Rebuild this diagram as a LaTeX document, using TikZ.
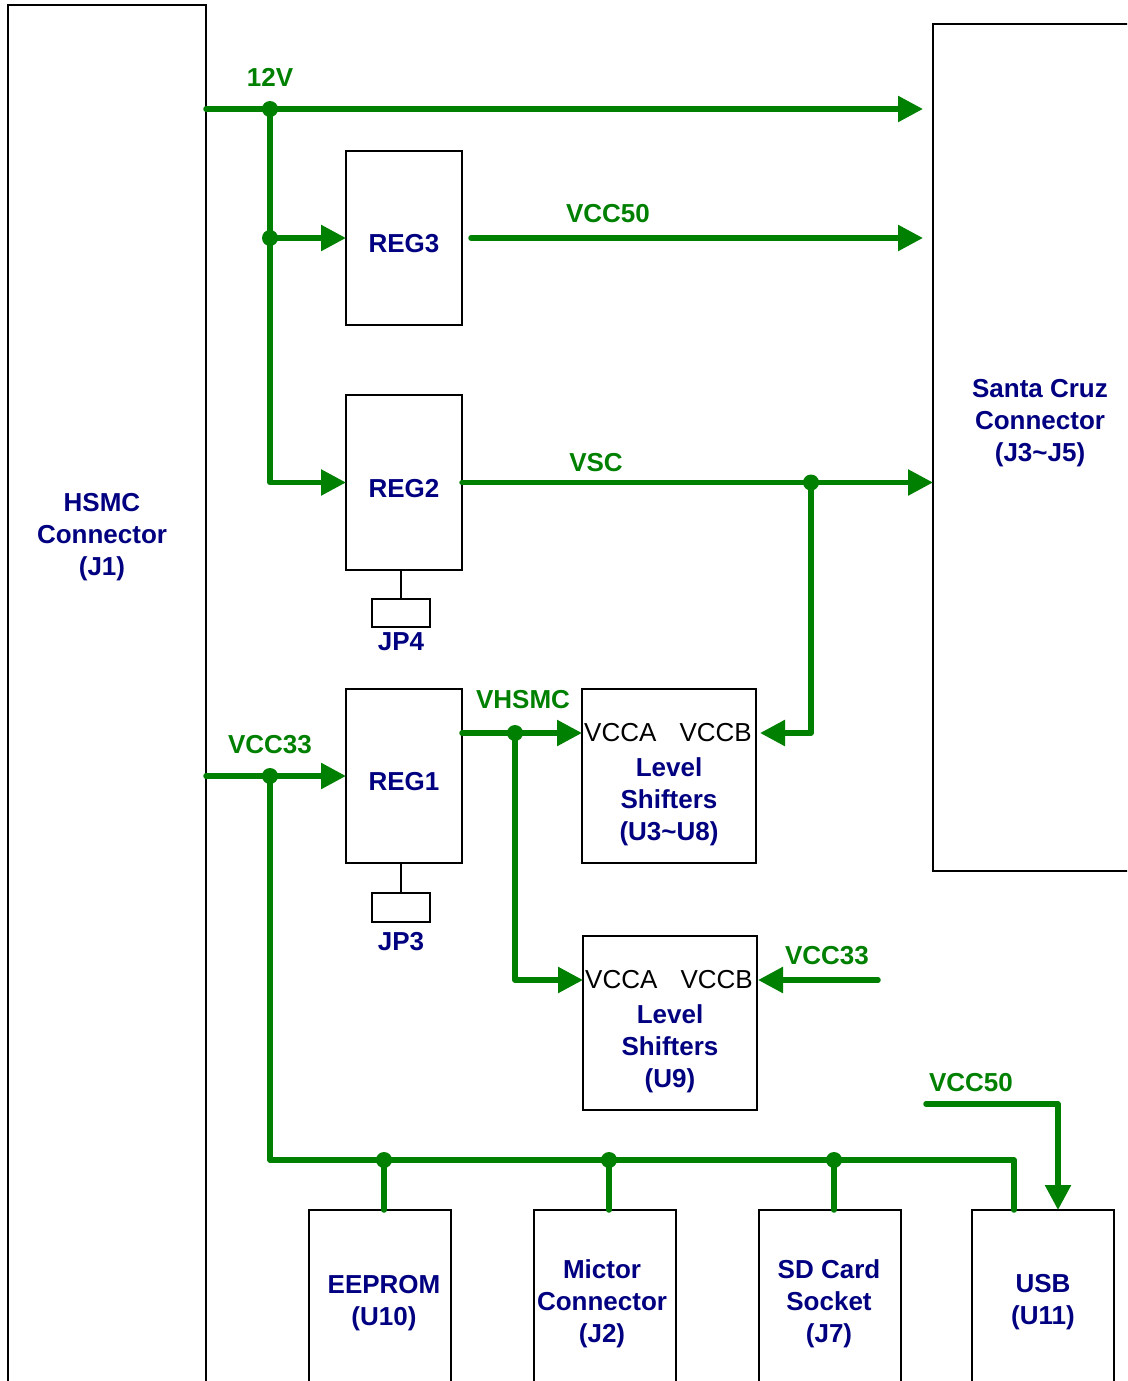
\documentclass[tikz,border=0pt]{standalone}
\usepackage{fontspec}
\setmainfont{Liberation Sans}
\usetikzlibrary{arrows.meta}
\definecolor{pgreen}{HTML}{008000}
\definecolor{pnavy}{HTML}{000080}
\begin{document}
\begin{tikzpicture}[x=1pt,y=-1pt,
  blk/.style 2 args={draw=black,line width=1.8pt,minimum width=#1,minimum height=#2,inner sep=0pt,outer sep=0pt},
  lbl/.style={text=pnavy,font=\bfseries\fontsize{26}{32}\selectfont,align=center,inner sep=0pt},
  glbl/.style={text=pgreen,font=\bfseries\fontsize{26}{32}\selectfont,inner sep=0pt},
  pin/.style={text=black,font=\fontsize{26}{32}\selectfont,inner sep=0pt},
  wire/.style={draw=pgreen,line width=5.5pt,line cap=round,line join=round},
  arr/.style={-{Triangle[length=25pt,width=25pt]}},
  dot/.style={circle,fill=pgreen,inner sep=0pt,minimum size=16pt},
  jp/.style={draw=black,line width=1.8pt}]
\useasboundingbox (0,0) rectangle (1127,1381);
\clip (0,0) rectangle (1127,1381);
\fill[white] (0,0) rectangle (1127,1381);

% boxes
\node[blk={198pt}{1395pt}] (HSMC) at (107,702.5) {};
\node[lbl] (HSMCt) at (102,537) {HSMC\\Connector\\(J1)};
\node[blk={217pt}{847pt}] (SC) at (1041.5,447.5) {};
\node[lbl] (SCt) at (1040,423) {Santa Cruz\\Connector\\(J3\textasciitilde J5)};
\node[blk={116pt}{174pt}] (REG3) at (404,238) {};
\node[lbl] (REG3t) at (404,244) {REG3};
\node[blk={116pt}{175pt}] (REG2) at (404,482.5) {};
\node[lbl] (REG2t) at (404,489) {REG2};
\node[blk={116pt}{174pt}] (REG1) at (404,776) {};
\node[lbl] (REG1t) at (404,782) {REG1};
\node[blk={58pt}{28pt}] (JP4) at (401,613) {};
\node[lbl] (JP4t) at (401,642) {JP4};
\node[blk={58pt}{29pt}] (JP3) at (401,907.5) {};
\node[lbl] (JP3t) at (401,942) {JP3};
\draw[jp] (JP4.north |- REG2.south) -- (JP4.north);
\draw[jp] (JP3.north |- REG1.south) -- (JP3.north);

\node[blk={174pt}{174pt}] (LS1) at (669,776) {};
\node[pin,anchor=west] (LS1a) at (584,733) {VCCA};
\node[pin,anchor=east] (LS1b) at (752,733) {VCCB};
\node[lbl] (LS1t) at (669,802) {Level\\Shifters\\(U3\textasciitilde U8)};
\node[blk={174pt}{174pt}] (LS2) at (670,1023) {};
\node[pin,anchor=west] (LS2a) at (585,980) {VCCA};
\node[pin,anchor=east] (LS2b) at (753,980) {VCCB};
\node[lbl] (LS2t) at (670,1049) {Level\\Shifters\\(U9)};

\node[blk={142pt}{190pt}] (EE) at (380,1305) {};
\node[lbl] (EEt) at (384,1303) {EEPROM\\(U10)};
\node[blk={142pt}{190pt}] (MI) at (605,1305) {};
\node[lbl] (MIt) at (602,1304) {Mictor\\Connector\\(J2)};
\node[blk={142pt}{190pt}] (SD) at (830,1305) {};
\node[lbl] (SDt) at (829,1304) {SD Card\\Socket\\(J7)};
\node[blk={142pt}{190pt}] (USB) at (1043,1305) {};
\node[lbl] (USBt) at (1043,1302) {USB\\(U11)};

% coordinates
\coordinate (j12) at (270,109);
\coordinate (j3) at (270,238);
\coordinate (jv) at (811,482.5);
\coordinate (jh) at (515,733);
\coordinate (j33) at (270,776);
\coordinate (v33src) at (878,980);
\coordinate (bus) at (1014,1160);
\coordinate (d1) at (384,1160);
\coordinate (d2) at (609,1160);
\coordinate (d3) at (834,1160);
\coordinate (v50src) at (926,1104);
\coordinate (usbin) at (1058,1210);

% wires
\draw[wire,arr,shorten >=10pt] (HSMC.east |- j12) -- (SC.west |- j12);
\draw[wire,arr] (j12) |- (REG2.west);
\draw[wire,arr] (j3) -- (REG3.west);
\draw[wire,arr,shorten <=9pt,shorten >=10pt] (REG3.east) -- (SC.west |- REG3.east);
\draw[wire,arr] (REG2.east) -- (SC.west |- REG2.east);
\draw[wire,arr,shorten >=4pt] (jv) |- (LS1.east |- jh);
\draw[wire,arr] (REG1.east |- jh) -- (LS1.west |- jh);
\draw[wire,arr] (jh) |- (LS2.west |- v33src);
\draw[wire,arr,shorten >=1pt] (v33src) -- (LS2.east |- v33src);
\draw[wire,arr] (HSMC.east |- REG1.west) -- (REG1.west);
\draw[wire] (j33) |- (bus) -- (USB.north -| bus);
\draw[wire] (d1) -- (EE.north -| d1);
\draw[wire] (d2) -- (MI.north -| d2);
\draw[wire] (d3) -- (SD.north -| d3);
\draw[wire,arr] (v50src) -| (usbin);

% dots
\foreach \p in {j12,j3,jv,jh,j33,d1,d2,d3} \node[dot] at (\p) {};

% green labels
\node[glbl] (l12) at (270,77) {12V};
\node[glbl] (l50a) at (608,214) {VCC50};
\node[glbl] (lvsc) at (596,463) {VSC};
\node[glbl] (lvh) at (523,700) {VHSMC};
\node[glbl] (l33a) at (270,745) {VCC33};
\node[glbl] (l33b) at (827,956) {VCC33};
\node[glbl] (l50b) at (971,1083) {VCC50};
\end{tikzpicture}
\end{document}
